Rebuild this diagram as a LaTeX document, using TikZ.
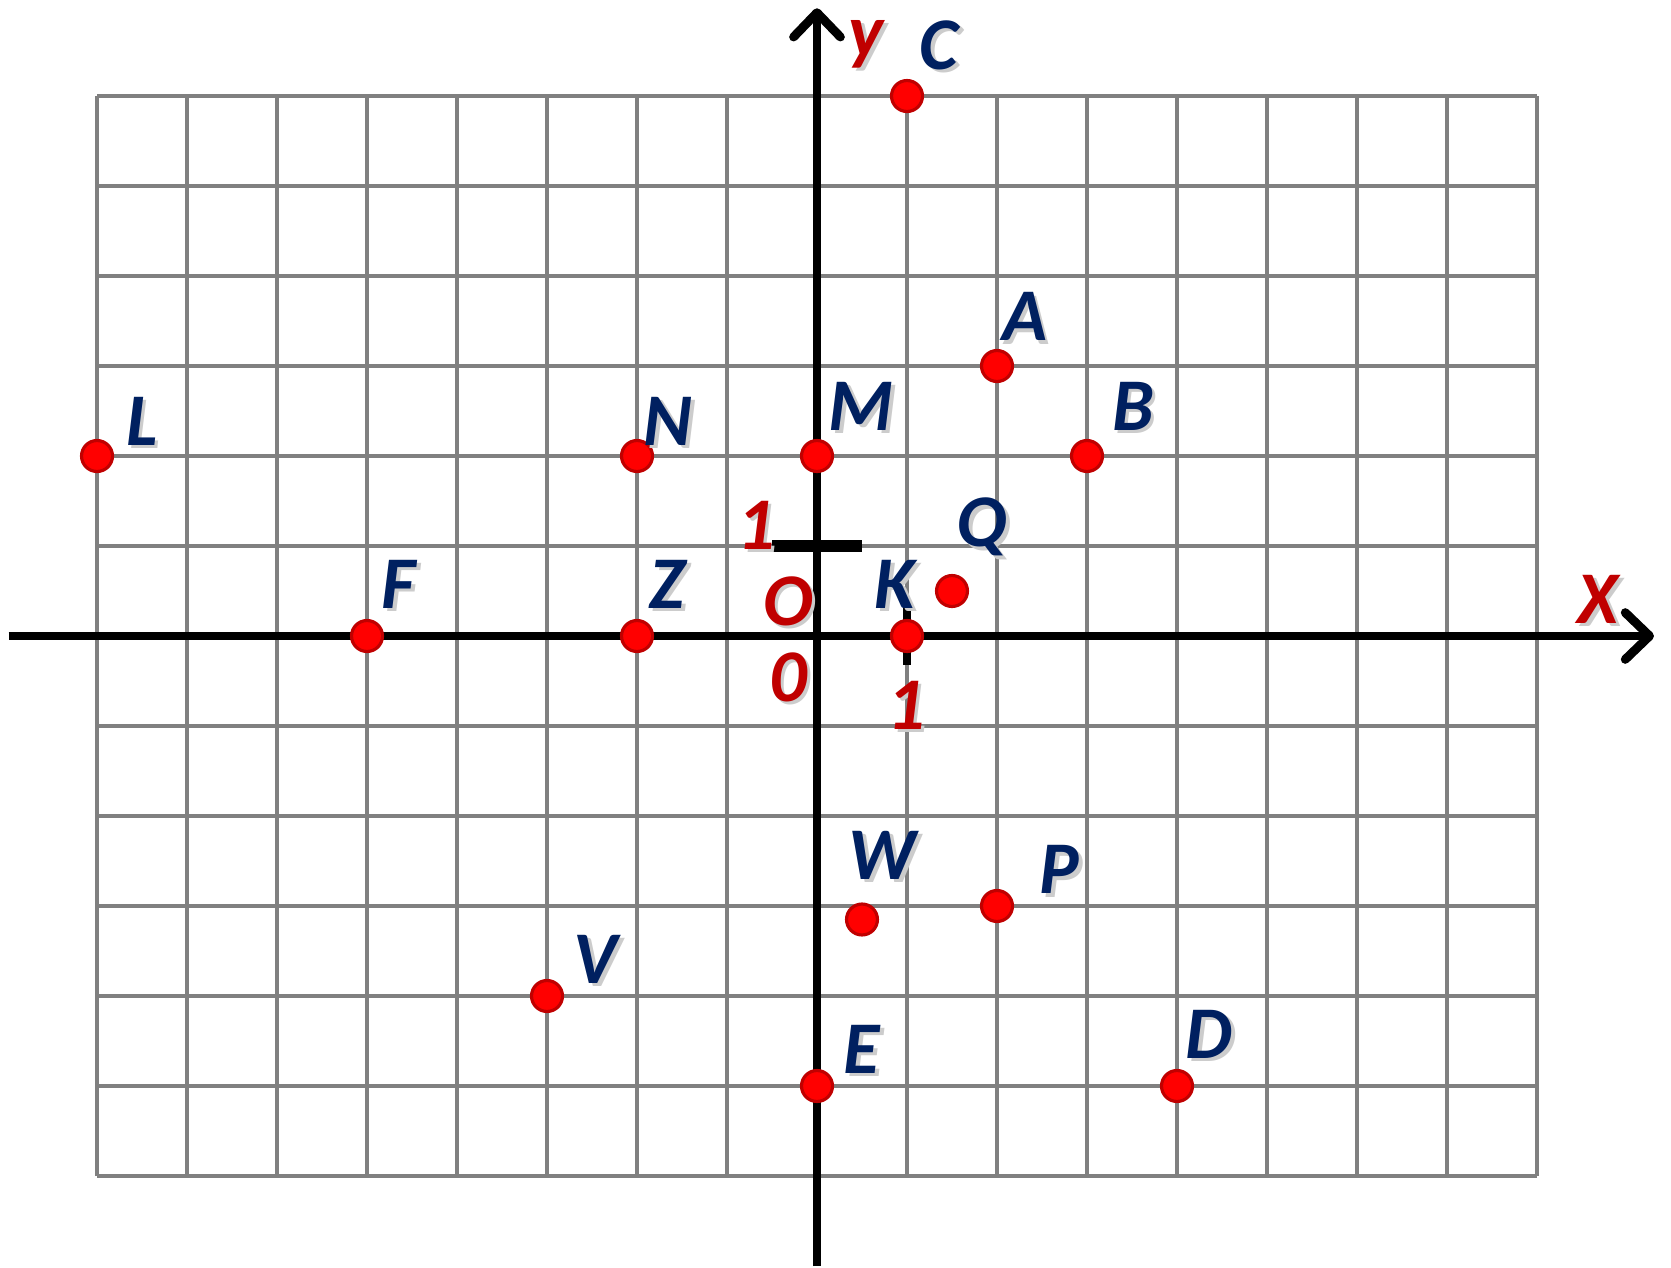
\documentclass[tikz,border=0pt]{standalone}
\usepackage{fontspec}
\newfontfamily\lblfont{Carlito}
\usetikzlibrary{arrows.meta}
\definecolor{navy}{HTML}{002060}
\definecolor{darkred}{HTML}{C00000}
\definecolor{gridgray}{HTML}{808080}
\tikzset{
  gridline/.style={draw=gridgray, line width=1.05pt},
  axisline/.style={draw=black, line width=2.8pt,
    -{Straight Barb[length=2.7mm, width=5.2mm, line cap=round, line join=round]}},
  ytick/.style={draw=black, line width=4.1pt},
  xtick/.style={draw=black, line width=2.7pt},
  dot/.style={circle, fill=red, draw=darkred, line width=1pt, minimum size=3.44mm, inner sep=0pt},
  lbltext/.style={inner sep=0pt, anchor=center, font=\lblfont\bfseries\itshape\fontsize{23.5}{24}\selectfont},
  lblshadow/.style={lbltext, text=black!20, xshift=1.2pt, yshift=-1.2pt},
}
\newcommand\ptlabel[4]{%
  \node[lblshadow] at (#2) {#3};
  \node[lbltext, text=#4] (#1) at (#2) {#3};
}
\begin{document}
\begin{tikzpicture}
\useasboundingbox (-9.078,-7.022) rectangle (9.489,7.067);
% grid
\draw[gridline] (-8,-6) grid (8,6);
% axes
\coordinate (xs) at (-8.983,0);
\coordinate (xe) at (9.30,0);
\coordinate (ys) at (0,-7.0);
\coordinate (ye) at (0,6.975);
\draw[axisline] (xs) -- (xe);
\draw[axisline] (ys) -- (ye);
% unit ticks
\coordinate (ty1) at (-0.5,1);
\coordinate (ty2) at (0.5,1);
\coordinate (tx1) at (1,0.333);
\coordinate (tx2) at (1,-0.322);
\draw[ytick] (ty1) -- (ty2);
\draw[xtick] (tx1) -- (tx2);
% points
\node[dot] (pC) at (1,6) {};
\node[dot] (pA) at (2,3) {};
\node[dot] (pB) at (3,2) {};
\node[dot] (pM) at (0,2) {};
\node[dot] (pN) at (-2,2) {};
\node[dot] (pL) at (-8,2) {};
\node[dot] (pQ) at (1.5,0.5) {};
\node[dot] (pF) at (-5,0) {};
\node[dot] (pZ) at (-2,0) {};
\node[dot] (pK) at (1,0) {};
\node[dot] (pW) at (0.5,-3.15) {};
\node[dot] (pP) at (2,-3) {};
\node[dot] (pV) at (-3,-4) {};
\node[dot] (pE) at (0,-5) {};
\node[dot] (pD) at (4,-5) {};
% labels
\ptlabel{ly}{0.544,6.578}{y}{darkred}
\ptlabel{lC}{1.356,6.567}{C}{navy}
\ptlabel{lA}{2.306,3.55}{A}{navy}
\ptlabel{lM}{0.489,2.556}{M}{navy}
\ptlabel{lB}{3.511,2.556}{B}{navy}
\ptlabel{lL}{-7.503,2.389}{L}{navy}
\ptlabel{lN}{-1.656,2.389}{N}{navy}
\ptlabel{lQ}{1.833,1.211}{Q}{navy}
\ptlabel{lone}{-0.678,1.233}{1}{darkred}
\ptlabel{lO}{-0.322,0.389}{O}{darkred}
\ptlabel{lK}{0.867,0.578}{K}{navy}
\ptlabel{lzero}{-0.322,-0.456}{0}{darkred}
\ptlabel{lonex}{0.989,-0.767}{1}{darkred}
\ptlabel{lF}{-4.651,0.578}{F}{navy}
\ptlabel{lZ}{-1.667,0.578}{Z}{navy}
\ptlabel{lX}{8.678,0.411}{X}{darkred}
\ptlabel{lW}{0.722,-2.433}{W}{navy}
\ptlabel{lP}{2.689,-2.594}{P}{navy}
\ptlabel{lV}{-2.456,-3.589}{V}{navy}
\ptlabel{lE}{0.500,-4.589}{E}{navy}
\ptlabel{lD}{4.356,-4.422}{D}{navy}
\end{tikzpicture}
\end{document}
